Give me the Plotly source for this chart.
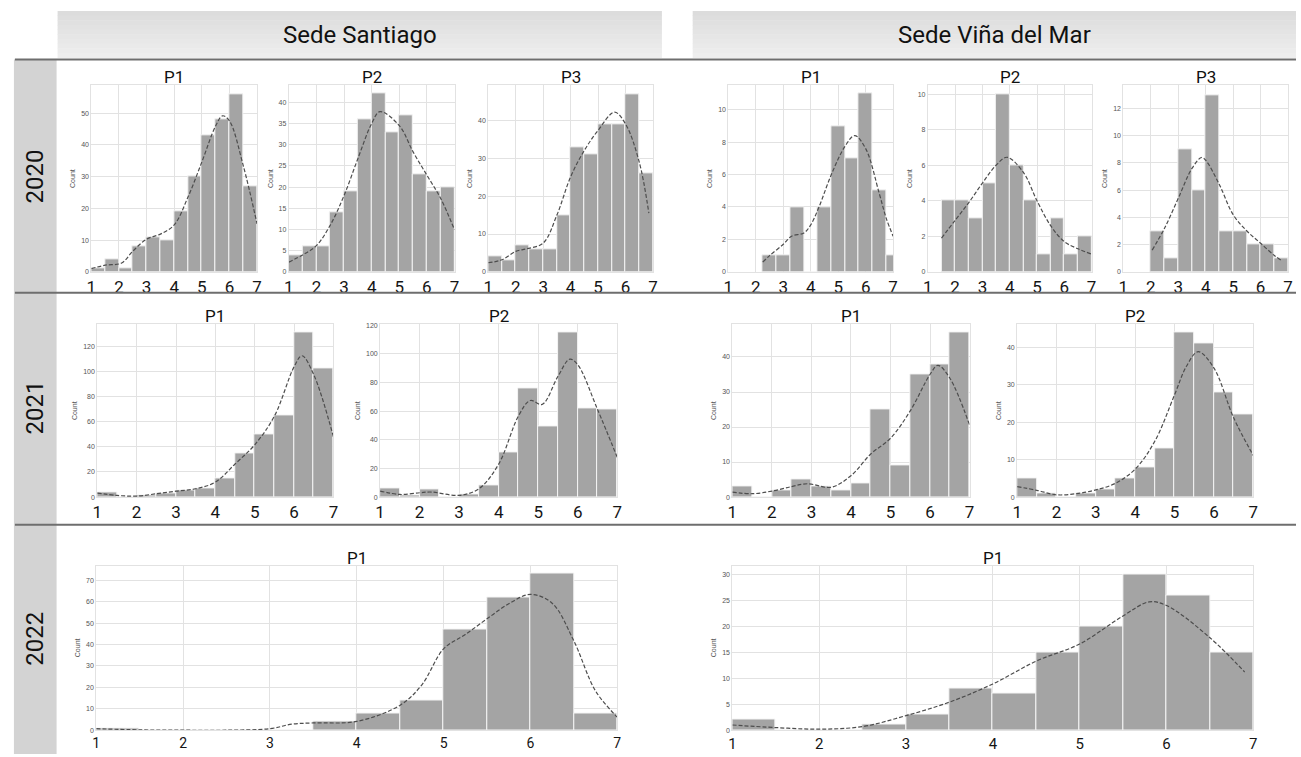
import plotly.graph_objects as go

W, H = 1301, 757

# ---------------- DATA ----------------
bin_width = 0.5

# 2020 Sede Santiago
s20_p1_bins = [1.0, 1.5, 2.0, 2.5, 3.0, 3.5, 4.0, 4.5, 5.0, 5.5, 6.0, 6.5]
s20_p1_counts = [1, 4, 1, 8, 11, 10, 19, 30, 43, 48, 56, 27]
s20_p1_kde_x = [1.0, 1.5, 2.1, 2.5, 3.0, 3.5, 4.0, 4.5, 5.0, 5.5, 5.75, 6.0, 6.5, 7.0]
s20_p1_kde_y = [1.0, 2.1, 2.8, 6.5, 10.3, 11.9, 14.8, 23.6, 34.6, 46.0, 49.2, 47.6, 33.5, 15.1]

s20_p2_bins = [1.0, 1.5, 2.0, 2.5, 3.0, 3.5, 4.0, 4.5, 5.0, 5.5, 6.0, 6.5]
s20_p2_counts = [4, 6, 6, 14, 19, 36, 42, 33, 37, 23, 19, 20]
s20_p2_kde_x = [1.0, 1.5, 2.0, 2.5, 3.0, 3.5, 4.0, 4.3, 5.0, 5.5, 6.0, 6.5, 7.0]
s20_p2_kde_y = [2.3, 4.0, 6.2, 11.0, 18.0, 26.7, 35.0, 37.8, 34.5, 28.3, 22.8, 17.3, 9.9]

s20_p3_bins = [1.0, 1.5, 2.0, 2.5, 3.0, 3.5, 4.0, 4.5, 5.0, 5.5, 6.0, 6.5]
s20_p3_counts = [4, 3, 7, 6, 6, 15, 33, 31, 39, 39, 47, 26]
s20_p3_kde_x = [1.0, 1.5, 2.0, 2.4, 3.0, 3.5, 4.0, 4.5, 5.0, 5.6, 6.0, 6.5, 6.85]
s20_p3_kde_y = [2.4, 3.2, 5.4, 6.1, 7.6, 15.0, 25.1, 32.1, 37.4, 42.2, 39.1, 29.0, 15.5]

# 2020 Sede Viña del Mar
v20_p1_bins = [2.25, 2.75, 3.25, 3.75, 4.25, 4.75, 5.25, 5.75, 6.25, 6.75]
v20_p1_counts = [1, 1, 4, 0, 4, 9, 7, 11, 5, 1]
v20_p1_kde_x = [2.25, 2.5, 3.0, 3.3, 3.75, 4.0, 4.3, 4.75, 5.25, 5.6, 6.0, 6.5, 6.75, 7.0]
v20_p1_kde_y = [0.6, 1.0, 1.7, 2.2, 2.4, 2.9, 4.0, 6.0, 7.75, 8.4, 7.6, 4.8, 3.3, 2.2]

v20_p2_bins = [1.5, 2.0, 2.5, 3.0, 3.5, 4.0, 4.5, 5.0, 5.5, 6.0, 6.5]
v20_p2_counts = [4, 4, 3, 5, 10, 6, 4, 1, 3, 1, 2]
v20_p2_kde_x = [1.5, 2.0, 2.5, 3.0, 3.5, 3.9, 4.5, 5.0, 5.5, 6.0, 6.5, 7.0]
v20_p2_kde_y = [1.9, 2.9, 3.9, 5.0, 6.0, 6.45, 5.6, 4.0, 2.6, 1.7, 1.3, 1.0]

v20_p3_bins = [2.0, 2.5, 3.0, 3.5, 4.0, 4.5, 5.0, 5.5, 6.0, 6.5]
v20_p3_counts = [3, 1, 9, 6, 13, 3, 3, 2, 2, 1]
v20_p3_kde_x = [2.05, 2.5, 3.0, 3.5, 3.85, 4.0, 4.5, 5.0, 5.5, 6.0, 6.5, 6.75]
v20_p3_kde_y = [1.6, 3.2, 5.4, 7.6, 8.4, 8.2, 6.4, 4.2, 3.0, 2.1, 1.2, 0.85]

# 2021 Sede Santiago
s21_p1_bins = [1.0, 1.5, 2.0, 2.5, 3.0, 3.5, 4.0, 4.5, 5.0, 5.5, 6.0, 6.5]
s21_p1_counts = [4, 0, 1, 3, 5, 7, 15, 35, 50, 65, 131, 103]
s21_p1_kde_x = [1.0, 1.5, 2.0, 2.5, 3.0, 3.5, 4.0, 4.5, 5.0, 5.5, 6.0, 6.2, 6.5, 7.0]
s21_p1_kde_y = [3.2, 1.3, 0.8, 2.6, 4.7, 6.6, 11.9, 26.4, 41.7, 64.6, 104.0, 112.7, 97.6, 48.0]

s21_p2_bins = [1.0, 1.5, 2.0, 2.5, 3.0, 3.5, 4.0, 4.5, 5.0, 5.5, 6.0, 6.5]
s21_p2_counts = [6, 1, 5, 0, 2, 8, 31, 76, 49, 115, 62, 61]
s21_p2_kde_x = [1.0, 1.5, 2.0, 2.3, 3.0, 3.5, 4.0, 4.5, 4.8, 5.1, 5.5, 5.8, 6.0, 6.5, 7.0]
s21_p2_kde_y = [4.2, 1.8, 3.0, 3.5, 1.2, 5.8, 23.0, 56.6, 67.4, 64.7, 84.3, 96.3, 92.4, 61.2, 27.7]

# 2021 Sede Viña del Mar
v21_p1_bins = [1.0, 1.5, 2.0, 2.5, 3.0, 3.5, 4.0, 4.5, 5.0, 5.5, 6.0, 6.5]
v21_p1_counts = [3, 0, 2, 5, 3, 2, 4, 25, 9, 35, 38, 47]
v21_p1_kde_x = [1.0, 1.5, 2.0, 2.5, 2.9, 3.5, 4.0, 4.5, 5.0, 5.5, 6.0, 6.2, 6.5, 7.0]
v21_p1_kde_y = [1.4, 0.95, 1.7, 3.0, 3.8, 2.8, 6.1, 12.3, 16.8, 24.6, 35.0, 37.6, 34.0, 20.6]

v21_p2_bins = [1.0, 1.5, 2.0, 2.5, 3.0, 3.5, 4.0, 4.5, 5.0, 5.5, 6.0, 6.5]
v21_p2_counts = [5, 1, 0, 1, 2, 5, 8, 13, 44, 41, 28, 22]
v21_p2_kde_x = [1.0, 1.5, 2.0, 2.5, 3.0, 3.5, 4.0, 4.5, 5.0, 5.3, 5.6, 6.0, 6.5, 7.0]
v21_p2_kde_y = [2.8, 1.8, 0.6, 0.9, 1.9, 3.7, 7.5, 15.0, 27.4, 35.0, 38.9, 34.5, 21.2, 11.1]

# 2022 Sede Santiago
s22_p1_bins = [1.0, 1.5, 2.0, 2.5, 3.0, 3.5, 4.0, 4.5, 5.0, 5.5, 6.0, 6.5]
s22_p1_counts = [1, 0, 0, 0, 0, 4, 8, 14, 47, 62, 73, 8]
s22_p1_kde_x = [1.0, 1.5, 2.0, 2.5, 3.0, 3.25, 3.5, 4.0, 4.5, 4.75, 5.0, 5.25, 5.5, 5.75, 6.0, 6.25, 6.5, 6.75, 7.0]
s22_p1_kde_y = [0.7, 0.15, 0.0, 0.0, 0.7, 2.8, 3.4, 4.1, 11.7, 21.2, 38.0, 44.7, 52.0, 59.0, 63.4, 59.3, 41.7, 18.3, 6.1]

# 2022 Sede Viña del Mar
v22_p1_bins = [1.0, 1.5, 2.0, 2.5, 3.0, 3.5, 4.0, 4.5, 5.0, 5.5, 6.0, 6.5]
v22_p1_counts = [2, 0, 0, 1, 3, 8, 7, 15, 20, 30, 26, 15]
v22_p1_kde_x = [1.0, 1.5, 2.0, 2.5, 3.0, 3.5, 4.0, 4.5, 5.0, 5.5, 5.8, 6.0, 6.5, 6.9]
v22_p1_kde_y = [1.0, 0.5, 0.2, 0.7, 2.8, 5.4, 8.9, 13.3, 16.6, 22.0, 24.7, 24.0, 17.8, 11.2]

x_ticks = [1, 2, 3, 4, 5, 6, 7]
campus_labels = ["Sede Santiago", "Sede Viña del Mar"]
year_labels = ["2020", "2021", "2022"]

# ---------------- LAYOUT (pixel geometry) ----------------
# (title, bins, counts, kde_x, kde_y, x0, x1, top, bottom, ymax, ydtick, xfont)
panels = [
    ("P1", s20_p1_bins, s20_p1_counts, s20_p1_kde_x, s20_p1_kde_y, 87, 254, 83, 271, 58.8, 10, 17),
    ("P2", s20_p2_bins, s20_p2_counts, s20_p2_kde_x, s20_p2_kde_y, 286, 453, 83, 271, 44, 5, 17),
    ("P3", s20_p3_bins, s20_p3_counts, s20_p3_kde_x, s20_p3_kde_y, 487, 653, 83, 271, 49.3, 10, 17),
    ("P1", v20_p1_bins, v20_p1_counts, v20_p1_kde_x, v20_p1_kde_y, 729, 895, 83, 271, 11.5, 2, 17),
    ("P2", v20_p2_bins, v20_p2_counts, v20_p2_kde_x, v20_p2_kde_y, 930, 1095, 83, 271, 10.5, 2, 17),
    ("P3", v20_p3_bins, v20_p3_counts, v20_p3_kde_x, v20_p3_kde_y, 1127, 1293, 83, 271, 13.7, 2, 17),
    ("P1", s21_p1_bins, s21_p1_counts, s21_p1_kde_x, s21_p1_kde_y, 93, 331, 324, 498, 137.7, 20, 17),
    ("P2", s21_p2_bins, s21_p2_counts, s21_p2_kde_x, s21_p2_kde_y, 378, 617, 324, 498, 120.5, 20, 17),
    ("P1", v21_p1_bins, v21_p1_counts, v21_p1_kde_x, v21_p1_kde_y, 733, 972, 324, 498, 49.3, 10, 17),
    ("P2", v21_p2_bins, v21_p2_counts, v21_p2_kde_x, v21_p2_kde_y, 1020, 1258, 324, 498, 46.2, 10, 17),
    ("P1", s22_p1_bins, s22_p1_counts, s22_p1_kde_x, s22_p1_kde_y, 92, 617, 567, 733, 76.9, 10, 14),
    ("P1", v22_p1_bins, v22_p1_counts, v22_p1_kde_x, v22_p1_kde_y, 733, 1258, 567, 733, 31.7, 5, 15),
]

FONT = "Roboto, Noto Sans, sans-serif"
SMALL = "Liberation Sans, Arial, sans-serif"
BAR_COLOR = "#a4a4a4"
GRID = "#e2e2e2"

fig = go.Figure()
layout = dict(
    width=W, height=H,
    margin=dict(l=0, r=0, t=0, b=0),
    paper_bgcolor="white", plot_bgcolor="white",
    showlegend=False,
    bargap=0,
)
shapes = []
annotations = []

for i, (title, bins, counts, kx, ky, x0, x1, top, bot, ymax, ydt, xfs) in enumerate(panels):
    n = "" if i == 0 else str(i + 1)
    xa, ya = "x" + n, "y" + n
    fig.add_trace(go.Bar(
        x=bins, y=counts, width=bin_width, offset=0,
        marker=dict(color=BAR_COLOR, line=dict(color="#f4f4f4", width=1)),
        xaxis=xa, yaxis=ya, hoverinfo="x+y",
    ))
    fig.add_trace(go.Scatter(
        x=kx, y=ky, mode="lines",
        line=dict(color="#4d4d4d", width=1.2, dash="4px,2px", shape="spline", smoothing=1.0),
        xaxis=xa, yaxis=ya, hoverinfo="skip",
    ))
    layout["xaxis" + n] = dict(
        domain=[x0 / W, x1 / W], anchor=ya, range=[1, 7],
        tickmode="array", tickvals=x_ticks, ticktext=[str(t) for t in x_ticks],
        tickfont=dict(family=FONT, size=xfs, color="#151515"),
        showgrid=True, gridcolor=GRID, gridwidth=1,
        showline=True, linecolor=GRID, mirror=True,
        zeroline=False, ticks="", ticklen=0,
    )
    layout["yaxis" + n] = dict(
        domain=[1 - bot / H, 1 - top / H], anchor=xa, range=[0, ymax],
        dtick=ydt, tick0=0,
        tickfont=dict(family=SMALL, size=7, color="#555"),
        title=dict(text="Count", font=dict(family=SMALL, size=7, color="#555"), standoff=4),
        showgrid=True, gridcolor=GRID, gridwidth=1,
        showline=True, linecolor=GRID, mirror=True,
        zeroline=False, ticks="",
    )
    annotations.append(dict(
        text=title, x=(x0 + x1) / 2 / W, y=1 - (top - 8) / H,
        xref="paper", yref="paper", xanchor="center", yanchor="middle",
        showarrow=False, font=dict(family=FONT, size=17, color="#111"),
    ))

# campus header boxes (vertical gradient made of thin strips)
header_top, header_bot = 8, 55
strip_colors = ["#dcdcdc", "#dedede", "#e0e0e0", "#e2e2e2", "#e4e4e4", "#e6e6e6",
                "#e8e8e8", "#eaeaea", "#ececec", "#eeeeee"]
for label, (bx0, bx1) in zip(campus_labels, [(53, 662), (693, 1301)]):
    step = (header_bot - header_top) / len(strip_colors)
    for k, col in enumerate(strip_colors):
        t = header_top + k * step
        shapes.append(dict(type="rect", xref="paper", yref="paper",
                           x0=bx0 / W, x1=bx1 / W, y0=1 - (t + step + 0.5) / H, y1=1 - t / H,
                           fillcolor=col, line=dict(width=0), layer="below"))
    annotations.append(dict(
        text=label, x=(bx0 + bx1) / 2 / W, y=1 - 32 / H,
        xref="paper", yref="paper", xanchor="center", yanchor="middle",
        showarrow=False, font=dict(family=FONT, size=24, color="#111"),
    ))

# left year band
shapes.append(dict(type="rect", xref="paper", yref="paper",
                   x0=9 / W, x1=52 / W, y0=0, y1=1 - 57 / H,
                   fillcolor="#d3d3d3", line=dict(width=0), layer="below"))
for label, yc in zip(year_labels, [175, 408, 641]):
    annotations.append(dict(
        text=label, x=30 / W, y=1 - yc / H, textangle=-90,
        xref="paper", yref="paper", xanchor="center", yanchor="middle",
        showarrow=False, font=dict(family=FONT, size=24, color="#111"),
    ))

# row separators
for ly in [57, 292, 526]:
    shapes.append(dict(type="line", xref="paper", yref="paper",
                       x0=10 / W, x1=1, y0=1 - ly / H, y1=1 - ly / H,
                       line=dict(color="#6e6e6e", width=2)))

layout["shapes"] = shapes
layout["annotations"] = annotations
fig.update_layout(**layout)
fig.write_html(
    "out.html",
    config={"displayModeBar": False},
    post_script="document.body.style.margin='0';document.body.style.padding='0';"
                "document.body.style.overflow='hidden';",
)
